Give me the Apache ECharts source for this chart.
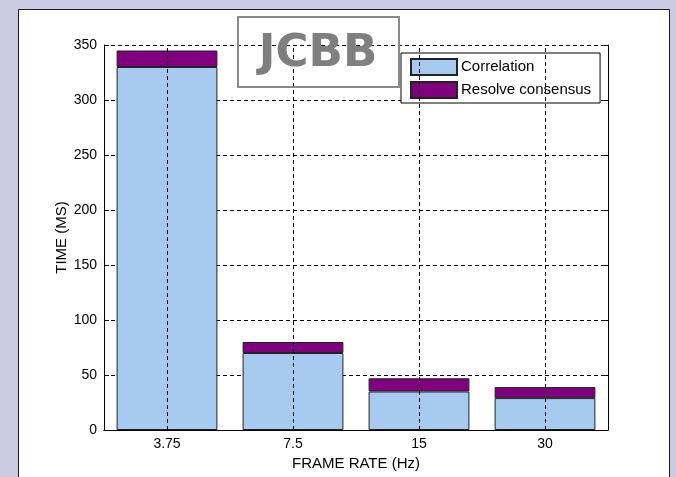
<!DOCTYPE html>
<html>
<head>
<meta charset="utf-8">
<script src="https://cdn.jsdelivr.net/npm/echarts@6/dist/echarts.min.js"></script>
<style>
html,body{margin:0;padding:0;background:#cbcbe3;}
#c{width:676px;height:477px;}
</style>
</head>
<body>
<div id="c"></div>
<script>
const categories = ['3.75', '7.5', '15', '30'];
const correlation = [330, 70, 35, 29];
const resolveConsensus = [15, 10, 12, 10];
const yMin = 0, yMax = 350, yStep = 50;

const FONT = 'Liberation Sans';
const dash = [4, 3];
const chart = echarts.init(document.getElementById('c'), null, {renderer: 'canvas'});
const gridBox = {left: 104, top: 45, width: 504, height: 385};

chart.setOption({
  animation: false,
  backgroundColor: '#cbcbe3',
  graphic: [
    {type: 'rect', z: -10, shape: {x: 18.5, y: 9.5, width: 651, height: 480},
     style: {fill: '#ffffff', stroke: '#1a1a1a', lineWidth: 1}},
    {type: 'rect', z: 100, shape: {x: 238, y: 17, width: 161, height: 70},
     style: {fill: 'rgba(0,0,0,0)', stroke: '#8a8a8a', lineWidth: 2}}
  ],
  title: {
    text: 'JCBB', left: 318, top: 32, textAlign: 'center', padding: 0, z: 101,
    textStyle: {fontFamily: 'DejaVu Sans', fontWeight: 'bold', fontSize: 45, color: '#7f7f7f', lineHeight: 45}
  },
  legend: {
    orient: 'vertical', left: 401, top: 53, padding: [5, 9, 4, 9],
    itemWidth: 46, itemHeight: 16, itemGap: 5, icon: 'rect',
    backgroundColor: '#ffffff', borderColor: '#000000', borderWidth: 1,
    textStyle: {fontFamily: FONT, fontSize: 15, color: '#000', lineHeight: 16, padding: [0, 0, 0, -1]},
    data: ['Correlation', 'Resolve consensus']
  },
  grid: gridBox,
  xAxis: [
    {type: 'category', data: categories, position: 'bottom',
     name: 'FRAME RATE (Hz)', nameLocation: 'middle', nameGap: 26, nameMoveOverlap: false,
     nameTextStyle: {fontFamily: FONT, fontSize: 15, color: '#000'},
     axisLine: {lineStyle: {color: '#000', width: 1}},
     axisTick: {inside: true, alignWithLabel: true, length: 5, lineStyle: {color: '#000'}},
     axisLabel: {fontFamily: FONT, fontSize: 14, color: '#000', margin: 7},
     splitLine: {show: false}},
    {type: 'category', data: categories, position: 'top',
     axisLine: {lineStyle: {color: '#000', width: 1}},
     axisTick: {inside: true, alignWithLabel: true, length: 5, lineStyle: {color: '#000'}},
     axisLabel: {show: false}, splitLine: {show: false}}
  ],
  yAxis: [
    {type: 'value', min: yMin, max: yMax, interval: yStep, position: 'left',
     name: 'TIME (MS)', nameLocation: 'middle', nameGap: 35, nameMoveOverlap: false,
     nameTextStyle: {fontFamily: FONT, fontSize: 15, color: '#000'},
     axisLine: {show: true, lineStyle: {color: '#000', width: 1}},
     axisTick: {show: true, inside: true, length: 5, lineStyle: {color: '#000'}},
     axisLabel: {fontFamily: FONT, fontSize: 14, color: '#000', margin: 7},
     splitLine: {show: true, lineStyle: {color: '#000', type: dash, width: 1}}},
    {type: 'value', min: yMin, max: yMax, interval: yStep, position: 'right',
     axisLine: {show: true, lineStyle: {color: '#000', width: 1}},
     axisTick: {show: true, inside: true, length: 5, lineStyle: {color: '#000'}},
     axisLabel: {show: false}, splitLine: {show: false}}
  ],
  series: [
    {name: 'Correlation', type: 'bar', stack: 't', data: correlation, barWidth: '80%',
     xAxisIndex: 0, yAxisIndex: 0,
     itemStyle: {color: '#a6caf0', borderColor: '#222', borderWidth: 1}},
    {name: 'Resolve consensus', type: 'bar', stack: 't', data: resolveConsensus, barWidth: '80%',
     xAxisIndex: 0, yAxisIndex: 0,
     itemStyle: {color: '#800080', borderColor: '#222', borderWidth: 1},
     markLine: {
       silent: true, symbol: 'none', z: 10, label: {show: false},
       lineStyle: {color: '#000', type: dash, width: 1},
       data: categories.map(c => ({xAxis: c}))
     }}
  ]
});
</script>
</body>
</html>
